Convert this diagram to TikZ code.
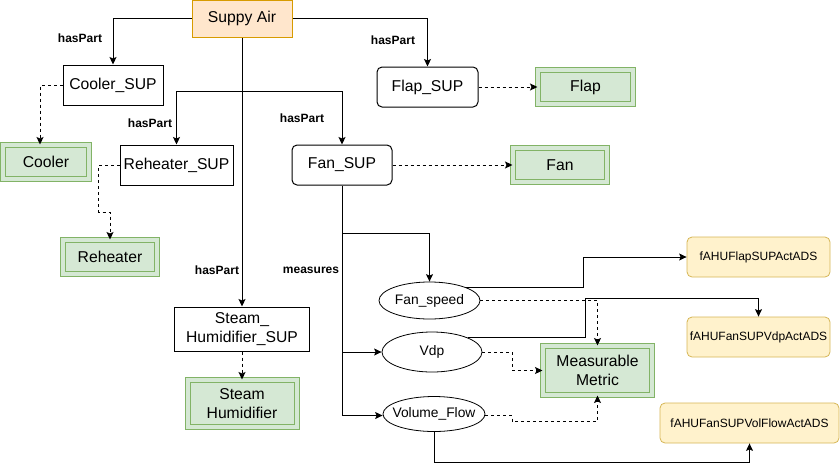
\documentclass[tikz,border=0pt]{standalone}
\usepackage{fontspec}
\setmainfont{Liberation Sans}
\usetikzlibrary{arrows.meta,shapes.geometric,calc}
\definecolor{gfill}{HTML}{D5E8D4}
\definecolor{gline}{HTML}{82B366}
\definecolor{ofill}{HTML}{FFE6CC}
\definecolor{oline}{HTML}{D79B00}
\definecolor{yfill}{HTML}{FFF2CC}
\definecolor{yline}{HTML}{D6B656}
\begin{document}
\begin{tikzpicture}[x=1pt,y=-1pt,
  every node/.style={inner sep=0pt,align=center},
  big/.style={font=\fontsize{15.7}{19.5}\selectfont},
  plainbox/.style={big,draw=black,line width=1pt,rectangle,minimum height=40pt},
  roundbox/.style={plainbox,rounded corners=5pt},
  greenbox/.style={big,rectangle,draw=gline,double=gfill,double distance=4pt,line width=1pt,fill=gfill},
  ellnode/.style={ellipse,draw=black,line width=0.8pt,inner xsep=-8pt,font=\fontsize{13.8}{16}\selectfont},
  ybox/.style={rectangle,rounded corners=5pt,draw=yline,fill=yfill,line width=0.8pt,minimum height=40pt,font=\fontsize{12}{14}\selectfont},
  lbl/.style={font=\bfseries\fontsize{12}{14}\selectfont},
  arr/.style={draw=black,line width=0.9pt,-{Stealth[length=7.5pt,width=7pt,inset=1.5pt]}},
  darr/.style={arr,dash pattern=on 3pt off 3pt}]
\useasboundingbox (0,0) rectangle (840,472);
% nodes
\node[plainbox,fill=ofill,draw=oline,minimum width=100pt,minimum height=37pt] (sa) at (242,18.5) {Suppy Air};
\node[plainbox,minimum width=100pt] (csup) at (113,85) {Cooler\_SUP};
\node[roundbox,minimum width=101pt] (flsup) at (427.5,87) {Flap\_SUP};
\node[greenbox,minimum width=95pt,minimum height=34pt] (flap) at (585.5,87) {Flap};
\node[roundbox,minimum width=100pt] (fsup) at (342,165) {Fan\_SUP};
\node[greenbox,minimum width=94pt,minimum height=34pt] (fan) at (560,165) {Fan};
\node[plainbox,minimum width=113pt] (rsup) at (176.5,165) {Reheater\_SUP};
\node[greenbox,minimum width=86pt,minimum height=34pt] (cooler) at (46,162) {Cooler};
\node[greenbox,minimum width=94pt,minimum height=34pt] (reh) at (110,257) {Reheater};
\node[plainbox,minimum width=135pt,minimum height=44pt] (shsup) at (242,329) {Steam\_\\Humidifier\_SUP};
\node[greenbox,minimum width=109pt,minimum height=47pt] (sh) at (242,403.5) {Steam\\Humidifier};
\node[ellnode,minimum width=101pt,minimum height=37pt] (fs) at (429.5,300.5) {Fan\_speed};
\node[ellnode,minimum width=100pt,minimum height=40pt] (vdp) at (432,352) {Vdp};
\node[ellnode,minimum width=102pt,minimum height=35pt] (vf) at (434,414) {Volume\_Flow};
\node[greenbox,minimum width=109pt,minimum height=49pt] (mm) at (597.5,370.5) {Measurable\\Metric};
\node[ybox,minimum width=143pt] (y1) at (758.5,257) {fAHUFlapSUPActADS};
\node[ybox,minimum width=143pt] (y2) at (758.5,337) {fAHUFanSUPVdpActADS};
\node[ybox,minimum width=179pt] (y3) at (749.5,423) {fAHUFanSUPVolFlowActADS};
% labels
\node[lbl] (l1) at (80,38) {hasPart};
\node[lbl] (l2) at (393,40) {hasPart};
\node[lbl] (l3) at (150,123) {hasPart};
\node[lbl] (l4) at (302,118) {hasPart};
\node[lbl] (l5) at (217,270) {hasPart};
\node[lbl] (l6) at (311,270) {measures};
% coordinates
\coordinate (j1) at (242,91);
\coordinate (j2) at (342,233);
% hasPart edges
\draw[arr] (sa.west) -| (csup.north);
\draw[arr] (sa.east) -| (flsup.north);
\draw[arr] (sa.south) -- (shsup.north);
\draw[arr] (j1) -| (rsup.north);
\draw[arr] (j1) -| (fsup.north);
% dashed type edges
\draw[darr] (csup.west) -| ([xshift=-6pt]cooler.north);
\draw[darr] (rsup.west) -- ++(-21,0) -- ++(0,47) -| (reh.north);
\draw[darr] (shsup.south) -- (sh.north);
\draw[darr] (flsup.east) -- (flap.west);
\draw[darr] (fsup.east) -- (fan.west);
% measures
\draw[arr] (fsup.south) |- ([yshift=-1.5pt]vf.west);
\draw[arr] (fsup.south |- vdp.west) -- (vdp.west);
\draw[arr] (j2) -| (fs.north);
% to measurable metric
\draw[darr] (fs.east) -| (mm.north);
\draw[darr] (vdp.east) -- ++(30,0) |- (mm.west);
\draw[darr] ([yshift=-1.5pt]vf.east) -- ++(27,0) -- ++(0,6) -| (mm.south);
% to ADS
\draw[arr] (fs.north east) -- ++(118,0) |- (y1.west);
\draw[arr] (vdp.north east) -- ++(118,0) -- ++(0,-39) -| (y2.north);
\draw[arr] (vf.south) -- ++(0,31) -| (y3.south);
\end{tikzpicture}
\end{document}
